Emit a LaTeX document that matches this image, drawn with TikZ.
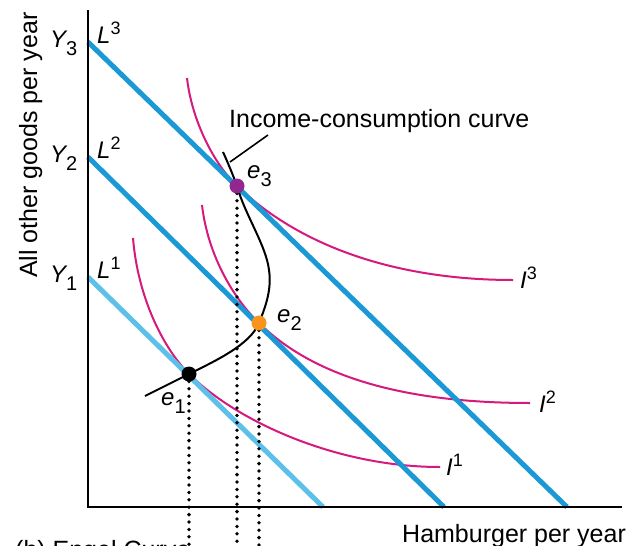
\documentclass[tikz,border=0pt]{standalone}
\usepackage{fontspec}
\setmainfont{Liberation Sans}
\definecolor{bl}{RGB}{27,152,214}
\definecolor{bllight}{RGB}{92,192,232}
\definecolor{mg}{RGB}{214,25,125}
\definecolor{org}{RGB}{247,148,29}
\definecolor{pur}{RGB}{146,39,143}
\newcommand\mysub[2]{{\itshape #1}\raisebox{-8pt}{\fontsize{20}{20}\selectfont #2}}
\newcommand\mysup[2]{{\itshape #1}\raisebox{9pt}{\fontsize{18}{18}\selectfont #2}}
\begin{document}
\begin{tikzpicture}[x=1pt,y=-1pt,
  txt/.style={inner sep=0pt, font=\fontsize{25}{30}\selectfont},
  lbl/.style={inner sep=0pt, font=\fontsize{24}{28}\selectfont, anchor=base west},
  axisline/.style={line width=2.5pt, black},
  budget/.style={line width=5pt, bl},
  icurve/.style={line width=2pt, mg},
  iccline/.style={line width=2pt, black},
  dotline/.style={line width=3.8pt, black, dash pattern=on 0pt off 7.4pt, line cap=round},
  edot/.style={circle, inner sep=0pt, minimum size=15pt}]
\clip (0,0) rectangle (629,546);
\fill[white] (0,0) rectangle (629,546);
% axes
\coordinate (ytop) at (88,10);
\coordinate (O) at (88,507);
\coordinate (xend) at (622,507);
% budget line ends
\coordinate (L3a) at (88,42);   \coordinate (L3b) at (567,507);
\coordinate (L2a) at (88,157);  \coordinate (L2b) at (444,507);
\coordinate (L1a) at (88,277);  \coordinate (L1b) at (323,507);
% equilibrium points
\coordinate (p1) at (189,374);
\coordinate (p2) at (259,323);
\coordinate (p3) at (237,186);
% indifference curves
\draw[icurve] (187,78) .. controls (192,122) and (215,165) .. (p3)
  .. controls (305,251) and (405,280) .. (513,280);
\draw[icurve] (202,205) .. controls (208,257) and (235,300) .. (p2)
  .. controls (320,383) and (420,403) .. (530,403);
\draw[icurve] (133,238) .. controls (138,300) and (165,350) .. (p1)
  .. controls (240,424) and (340,467) .. (440,467);
% budget lines
\draw[budget] (L3a) -- (L3b);
\draw[budget] (L2a) -- (L2b);
\draw[budget, bllight] (L1a) -- (L1b);
% axes
\draw[axisline] (ytop) -- (O) -- (xend);
% income-consumption curve
\coordinate (iccstart) at (145,396);
\coordinate (iccend) at (223,152);
\draw[iccline] (iccstart) .. controls (165,386) and (175,381) .. (p1)
  .. controls (215,361) and (250,345) .. (p2)
  .. controls (265,308) and (272,290) .. (269,270)
  .. controls (266,245) and (245,215) .. (p3)
  .. controls (233,175) and (228,163) .. (iccend);
% dotted drops
\coordinate (b1) at (189,560);
\coordinate (b2) at (259,560);
\coordinate (b3) at (237,560);
\draw[dotline] (p1) -- (b1);
\draw[dotline] (p2) -- (b2);
\draw[dotline] (p3) -- (b3);
\node[edot, fill=black] (e1) at (p1) {};
\node[edot, fill=org] (e2) at (p2) {};
\node[edot, fill=pur] (e3) at (p3) {};
% leader
\coordinate (lead1) at (268,135);
\coordinate (lead2) at (230,162);
\draw[line width=1.6pt] (lead1) -- (lead2);
% texts
\node[txt, anchor=base west] (icc) at (229,127) {Income-consumption curve};
\node[txt, anchor=base west] (xlab) at (402,542) {Hamburger per year};
\node[txt, anchor=base west, rotate=90] (ylab) at (37,278) {All other goods per year};
\node[txt, anchor=base west] (cap) at (15,558) {(b) Engel Curve};
\node[lbl] (Y3) at (50,47) {\mysub{Y}{3}};
\node[lbl] (Y2) at (50,162) {\mysub{Y}{2}};
\node[lbl] (Y1) at (50,282) {\mysub{Y}{1}};
\node[lbl] (Lt3) at (97,43) {\mysup{L}{3}};
\node[lbl] (Lt2) at (97,158) {\mysup{L}{2}};
\node[lbl] (Lt1) at (97,278) {\mysup{L}{1}};
\node[lbl] (It3) at (520,288) {\mysup{I}{3}};
\node[lbl] (It2) at (539,412) {\mysup{I}{2}};
\node[lbl] (It1) at (446,475) {\mysup{I}{1}};
\node[lbl] (le3) at (247,178) {\mysub{e}{3}};
\node[lbl] (le2) at (277,322) {\mysub{e}{2}};
\node[lbl] (le1) at (161,405) {\mysub{e}{1}};
\end{tikzpicture}
\end{document}
